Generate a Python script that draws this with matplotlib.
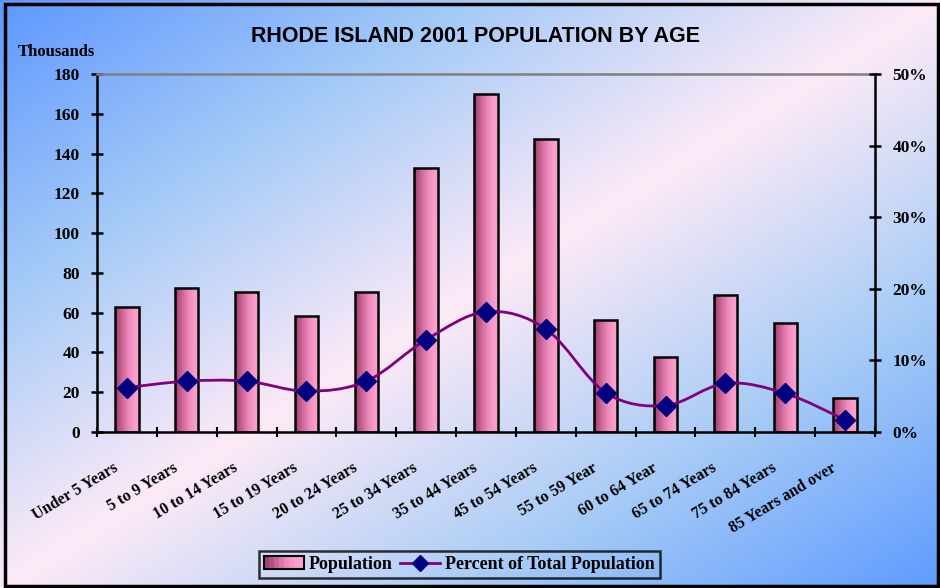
import numpy as np
import matplotlib.pyplot as plt
import matplotlib.transforms as mtransforms
from matplotlib.colors import LinearSegmentedColormap
from matplotlib.patches import Rectangle
from matplotlib.path import Path
from matplotlib.patches import PathPatch
from matplotlib.lines import Line2D
from matplotlib.legend_handler import HandlerBase

# data
age_groups = ['Under 5 Years', '5 to 9 Years', '10 to 14 Years', '15 to 19 Years',
              '20 to 24 Years', '25 to 34 Years', '35 to 44 Years', '45 to 54 Years',
              '55 to 59 Year', '60 to 64 Year', '65 to 74 Years', '75 to 84 Years',
              '85 Years and over']
population = [63.0, 72.2, 70.5, 58.4, 70.5, 132.6, 169.8, 147.1, 56.3, 37.8, 68.8, 55.0, 17.0]
percent = [6.2, 7.1, 7.1, 5.7, 7.1, 12.9, 16.8, 14.4, 5.5, 3.7, 6.8, 5.4, 1.7]

left_ticks = [0, 20, 40, 60, 80, 100, 120, 140, 160, 180]
right_ticks = [0, 10, 20, 30, 40, 50]

serif = 'Liberation Serif'
bar_colors = ['#a3406f', '#b44f82', '#c86494', '#dc77a8', '#ec88b9', '#f594c6', '#f89ecc', '#f9a4cf']

W, H = 940, 588
fig = plt.figure(figsize=(W / 100, H / 100), dpi=100)

# background gradient (blue corners, pale pink along the anti-diagonal)
bg = fig.add_axes([0, 0, 1, 1], zorder=-10)
xx, yy = np.meshgrid(np.linspace(0, 1, 400), np.linspace(0, 1, 250))
t = (xx + yy) / 2
bg_cmap = LinearSegmentedColormap.from_list('bg', [(0, '#5f98ff'), (0.25, '#a4caf7'),
                                                   (0.5, '#fdeaf7'), (0.75, '#a8ccf6'),
                                                   (1, '#5f9bff')])
bg.imshow(t, cmap=bg_cmap, aspect='auto', extent=(0, 1, 1, 0))
bg.set_xlim(0, 1)
bg.set_ylim(1, 0)
bg.axis('off')
fig.add_artist(Rectangle((5 / W, 2 / H), 933 / W, 582 / H, transform=fig.transFigure,
                         fill=False, edgecolor='black', linewidth=2.5))

ax = fig.add_axes([97 / W, (H - 432) / H, 778 / W, 358 / H])
ax.set_facecolor('none')
n = len(age_groups)
x = np.arange(n)
bw = 0.39

bar_cmap = LinearSegmentedColormap.from_list('bar', bar_colors)
grad = np.linspace(0, 1, 64).reshape(1, -1)
for xi, v in zip(x, population):
    rect = Rectangle((xi - bw / 2, 0), bw, v, facecolor='none', edgecolor='black',
                     linewidth=1.8, zorder=3)
    ax.add_patch(rect)
    im = ax.imshow(grad, cmap=bar_cmap, aspect='auto',
                   extent=(xi - bw / 2, xi + bw / 2, 0, v), zorder=2)
    im.set_clip_path(rect)

ax.set_xlim(-0.5, n - 0.5)
ax.set_ylim(0, 180)
ax.set_yticks(left_ticks)
ax.set_xticks(np.arange(n + 1) - 0.5)
ax.set_xticklabels([])
ax.tick_params(axis='x', which='major', direction='inout', length=7, width=1.5)
ax.tick_params(axis='y', direction='inout', length=9, width=1.8, pad=8)
for lab in ax.get_yticklabels():
    lab.set_fontfamily(serif)
    lab.set_fontweight('bold')
    lab.set_fontsize(12.5)
for s in ['left', 'bottom', 'right']:
    ax.spines[s].set_linewidth(1.8)
ax.spines['top'].set_color('#808080')
ax.spines['top'].set_linewidth(1.8)

# rotated category labels, shifted a little left and down like the original
shift = mtransforms.ScaledTranslation(-14 / 100, -28 / 100, fig.dpi_scale_trans)
lab_trans = ax.get_xaxis_transform() + shift
for xi, name in zip(x, age_groups):
    ax.text(xi, 0, name, transform=lab_trans, rotation=31, ha='right', va='top',
            rotation_mode='anchor', fontfamily=serif, fontweight='bold', fontsize=11.5)

ax2 = ax.twinx()
ax2.set_ylim(0, 50)
ax2.set_yticks(right_ticks)
ax2.set_yticklabels([f'{v}%' for v in right_ticks], fontfamily=serif,
                    fontweight='bold', fontsize=12.5)
ax2.tick_params(axis='y', direction='inout', length=9, width=1.8, pad=8)
for s in ax2.spines.values():
    s.set_visible(False)

# smoothed percent line (Catmull-Rom style bezier through the points)
pts = np.column_stack([x, percent])
verts = [pts[0]]
codes = [Path.MOVETO]
for i in range(n - 1):
    p0 = pts[max(i - 1, 0)]
    p1 = pts[i]
    p2 = pts[i + 1]
    p3 = pts[min(i + 2, n - 1)]
    verts += [p1 + (p2 - p0) / 6, p2 - (p3 - p1) / 6, p2]
    codes += [Path.CURVE4] * 3
ax2.add_patch(PathPatch(Path(verts, codes), facecolor='none', edgecolor='#800080',
                        linewidth=2, zorder=4))
ax2.plot(x, percent, linestyle='none', marker='D', markersize=10,
         color='#000080', zorder=5)

fig.text(476 / W, 1 - 37 / H, 'RHODE ISLAND 2001 POPULATION BY AGE', ha='center',
         va='center', fontfamily='Liberation Sans', fontweight='bold', fontsize=15.5)
fig.text(18 / W, 1 - 52 / H, 'Thousands', ha='left', va='center', fontfamily=serif,
         fontweight='bold', fontsize=12)


class GradientHandler(HandlerBase):
    def create_artists(self, legend, orig, xd, yd, width, height, fontsize, trans):
        arts = []
        k = len(bar_colors)
        for j, c in enumerate(bar_colors):
            arts.append(Rectangle((xd + width * j / k, yd), width / k + 0.3, height,
                                  facecolor=c, edgecolor='none', transform=trans))
        arts.append(Rectangle((xd, yd), width, height, facecolor='none',
                              edgecolor='black', linewidth=1.5, transform=trans))
        return arts


pop_handle = Rectangle((0, 0), 1, 1)
pct_handle = Line2D([], [], color='#800080', linewidth=2, marker='D', markersize=8,
                    markerfacecolor='#000080', markeredgecolor='#000080')
leg = fig.legend([pop_handle, pct_handle], ['Population', 'Percent of Total Population'],
                 handler_map={Rectangle: GradientHandler()}, loc='center',
                 bbox_to_anchor=(459.5 / W, 1 - 564.5 / H), ncol=2, frameon=True,
                 fancybox=False, handlelength=2.2, handletextpad=0.3, columnspacing=0.4,
                 borderpad=0.3, prop={'family': serif, 'weight': 'bold', 'size': 13})
leg.get_frame().set_edgecolor('black')
leg.get_frame().set_linewidth(1.8)
leg.get_frame().set_facecolor('none')

fig.savefig('out.png', dpi=100)
